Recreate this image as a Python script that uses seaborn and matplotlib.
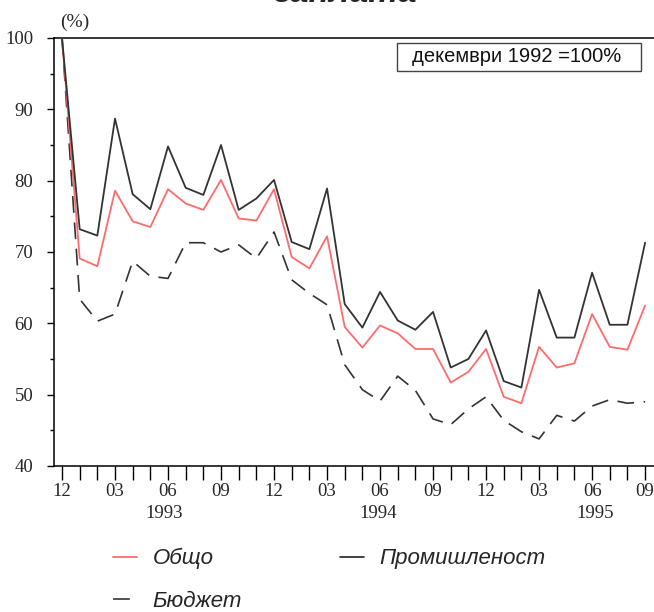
import matplotlib
matplotlib.use("Agg")
import matplotlib.pyplot as plt
import seaborn as sns
import numpy as np
import pandas as pd
from matplotlib.ticker import FixedLocator, MultipleLocator
from matplotlib.patches import Rectangle

# ---- data (Dec 1992 = 100) ----
months = list(range(34))  # Dec 1992 ... Sep 1995
tick_pos = list(range(0, 34, 3))
tick_labels = ["12", "03", "06", "09"] * 3
years = ["1993", "1994", "1995"]
year_pos = [5.8, 17.9, 30.2]

obshto = [100, 69.1, 68.0, 78.6, 74.3, 73.5, 78.8, 76.8, 75.9, 80.1, 74.7, 74.4,
          78.8, 69.3, 67.7, 72.2, 59.5, 56.6, 59.7, 58.6, 56.4, 56.4, 51.7, 53.2,
          56.4, 49.7, 48.8, 56.7, 53.8, 54.4, 61.3, 56.7, 56.3, 62.5]
promishlenost = [100, 73.2, 72.3, 88.7, 78.1, 76.0, 84.8, 79.0, 78.0, 85.0, 75.9, 77.5,
                 80.1, 71.4, 70.4, 78.9, 62.7, 59.4, 64.4, 60.4, 59.1, 61.6, 53.8, 55.0,
                 59.0, 51.9, 51.0, 64.7, 58.0, 58.0, 67.1, 59.8, 59.8, 71.3]
byudzhet = [100, 63.4, 60.3, 61.3, 68.7, 66.6, 66.3, 71.3, 71.3, 70.0, 71.0, 69.1,
            72.8, 66.1, 64.2, 62.6, 54.2, 50.7, 49.1, 52.6, 50.6, 46.6, 45.8, 48.0,
            49.7, 46.4, 44.8, 43.8, 47.1, 46.3, 48.4, 49.3, 48.8, 49.0]

sns.set_theme(style="white")
plt.rcParams["font.family"] = ["Liberation Serif", "DejaVu Serif"]

W, H = 654, 612
fig = plt.figure(figsize=(W / 100, H / 100), dpi=100)
fig.patch.set_facecolor("white")
ax = fig.add_axes([54 / W, (H - 466) / H, (670 - 54) / W, 428 / H])
ax.set_facecolor("white")

sns.lineplot(x=months, y=byudzhet, ax=ax, color="#333333", linewidth=1.2,
             label="Бюджет", zorder=2)
sns.lineplot(x=months, y=obshto, ax=ax, color="#ff6b6b", linewidth=1.3,
             label="Общо", zorder=3)
sns.lineplot(x=months, y=promishlenost, ax=ax, color="#333333", linewidth=1.3,
             label="Промишленост", zorder=4)
# dashed style for the budget line (dash ~14px, gap ~8px)
bud_line = ax.get_lines()[0]
bud_line.set_dashes([14 * 0.72, 8 * 0.72])

ax.set_xlim(-0.453, 34.41)
ax.set_ylim(40, 100)
ax.set_xlabel("")
ax.set_ylabel("")

ax.xaxis.set_major_locator(FixedLocator(tick_pos))
ax.set_xticklabels(tick_labels)
ax.xaxis.set_minor_locator(MultipleLocator(1))
ax.yaxis.set_major_locator(MultipleLocator(10))
ax.yaxis.set_minor_locator(MultipleLocator(5))
ax.tick_params(axis="x", which="both", direction="out", length=10, width=1,
               color="black", bottom=True, pad=2, labelsize=13.5)
ax.tick_params(axis="y", which="major", direction="out", length=5, width=1,
               color="black", left=True, pad=10, labelsize=13.5)
ax.tick_params(axis="y", which="minor", direction="out", length=3, width=1,
               color="black", left=True)
for side in ["top", "left", "bottom"]:
    ax.spines[side].set_visible(True)
    ax.spines[side].set_color("black")
    ax.spines[side].set_linewidth(1.1)
ax.spines["right"].set_visible(False)
ax.grid(False)

for yr, xp in zip(years, year_pos):
    ax.text(xp, -0.112, yr, transform=ax.get_xaxis_transform(), ha="center",
            va="center", fontsize=13.5)

# legend
handles, labels = ax.get_legend_handles_labels()
order = [labels.index(l) for l in ["Общо", "Бюджет", "Промишленост"]]
if ax.get_legend() is not None:
    ax.get_legend().remove()
fig.legend([handles[i] for i in order], [labels[i] for i in order],
           loc="upper left", bbox_to_anchor=(113 / W, 1 - 548 / H), ncol=2,
           frameon=False, borderpad=0, borderaxespad=0, handlelength=1.1,
           handletextpad=0.68, columnspacing=4.4, labelspacing=0.98,
           prop={"family": ["Liberation Sans", "DejaVu Sans"],
                 "style": "italic", "size": 16})

# texts
fig.text(346 / W, 1 - 2 / H, "заплата", ha="center", va="baseline",
         fontsize=24, fontweight="bold", fontstyle="italic",
         family=["Liberation Sans", "DejaVu Sans"])
fig.text(75 / W, 1 - 22 / H, "(%)", ha="center", va="center", fontsize=14)

fig.add_artist(Rectangle((397 / W, 1 - 71 / H), 244 / W, 28 / H,
                         transform=fig.transFigure, fill=False,
                         edgecolor="#444444", linewidth=1))
fig.text(517 / W, 1 - 57 / H, "декември 1992 =100%", ha="center", va="center",
         fontsize=14.5, family=["Liberation Sans", "DejaVu Sans"], color="#111111")

fig.savefig("out.png", dpi=100)
